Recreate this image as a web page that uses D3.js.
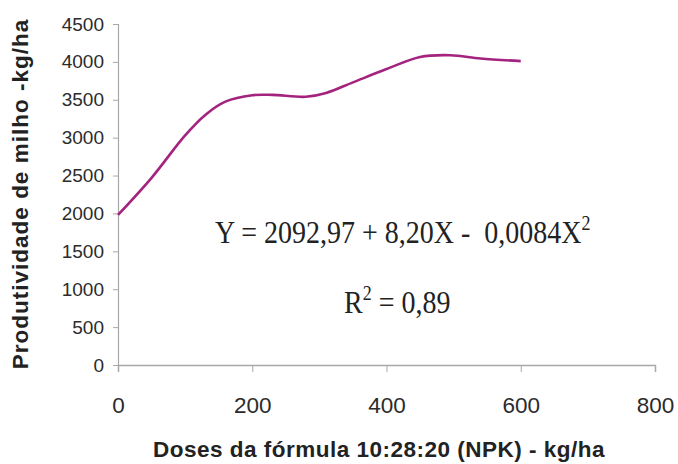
<!DOCTYPE html>
<html lang="en">

<head>
    <meta charset="utf-8">
    <title>Produtividade de milho</title>
    <script type="text/javascript" src="https://d3js.org/d3.v7.min.js"></script>
    <style type="text/css">
        body { margin: 0; background: #fff; }
    </style>
</head>

<body>
    <script type="text/javascript">
        //Values (dose kg/ha, yield kg/ha)
        const doses = [0, 50, 100, 130, 160, 200, 230, 280, 310, 350, 400, 450, 495, 540, 600];
        const yields = [1980, 2470, 3030, 3300, 3475, 3560, 3565, 3540, 3590, 3730, 3905, 4065, 4088, 4045, 4010];
        const xTicks = [0, 200, 400, 600, 800];
        const yTicks = [0, 500, 1000, 1500, 2000, 2500, 3000, 3500, 4000, 4500];

        const canvasWidth = 678;
        const canvasHeight = 464;

        const xScale = d3.scaleLinear()
            .domain([0, 800])
            .range([118, 655])

        const yScale = d3.scaleLinear()
            .domain([0, 4500])
            .range([365, 24])

        const svg = d3.select('body')
            .append('svg')
            .attr('width', canvasWidth)
            .attr('height', canvasHeight)

        //Axes
        const bottomAxis = d3.axisBottom(xScale)
            .tickValues(xTicks)
            .tickFormat(d3.format('d'))
            .tickSize(7)
            .tickPadding(25)

        const leftAxis = d3.axisLeft(yScale)
            .tickValues(yTicks)
            .tickFormat(d3.format('d'))
            .tickSize(5)
            .tickPadding(9)

        const gx = svg.append('g')
            .attr('transform', 'translate(0,' + yScale(0) + ')')
            .call(bottomAxis)
        gx.select('.domain').attr('stroke', '#a8a8a8').attr('stroke-width', 1.5)
        gx.selectAll('.tick line').attr('stroke', '#a8a8a8')
        gx.selectAll('.tick text')
            .attr('font-family', 'Liberation Sans, Arial, sans-serif')
            .attr('font-size', 22.5)
            .attr('fill', '#2b2b2b')

        const gy = svg.append('g')
            .attr('transform', 'translate(' + xScale(0) + ',0)')
            .call(leftAxis)
        gy.select('.domain').attr('stroke', '#a8a8a8').attr('stroke-width', 1.2)
        gy.selectAll('.tick line').attr('stroke', '#a8a8a8')
        gy.selectAll('.tick text')
            .attr('font-family', 'Liberation Sans, Arial, sans-serif')
            .attr('font-size', 19)
            .attr('fill', '#2b2b2b')

        //Curve
        const points = doses.map((d, i) => [d, yields[i]])
        const line = d3.line()
            .x(d => xScale(d[0]))
            .y(d => yScale(d[1]))
            .curve(d3.curveCatmullRom.alpha(0.5))

        svg.append('path')
            .datum(points)
            .attr('d', line)
            .attr('fill', 'none')
            .attr('stroke', '#a3237f')
            .attr('stroke-width', 2.6)

        //Axis labels
        svg.append('text')
            .attr('text-anchor', 'middle')
            .attr('x', 379)
            .attr('y', 457)
            .attr('font-family', 'Liberation Sans, Arial, sans-serif')
            .attr('font-weight', 'bold')
            .attr('font-size', 22.5)
            .attr('letter-spacing', 0.5)
            .attr('fill', '#222')
            .text('Doses da fórmula 10:28:20 (NPK) - kg/ha')

        svg.append('text')
            .attr('text-anchor', 'middle')
            .attr('transform', 'translate(28,194) rotate(-90)')
            .attr('font-family', 'Liberation Sans, Arial, sans-serif')
            .attr('font-weight', 'bold')
            .attr('font-size', 22.5)
            .attr('letter-spacing', 1)
            .attr('fill', '#222')
            .text('Produtividade de milho -kg/ha')

        //Regression equation
        const eq = svg.append('text')
            .attr('transform', 'translate(215,243) scale(1,1.12)')
            .attr('font-family', 'Liberation Serif, Times New Roman, serif')
            .attr('font-size', 28)
            .attr('fill', '#222')
            .style('white-space', 'pre')
        eq.append('tspan').text('Y = 2092,97 + 8,20X -  0,0084X')
        eq.append('tspan').attr('dy', -12).attr('font-size', 18).text('2')

        const r2 = svg.append('text')
            .attr('transform', 'translate(344,313) scale(1,1.12)')
            .attr('font-family', 'Liberation Serif, Times New Roman, serif')
            .attr('font-size', 28)
            .attr('fill', '#222')
            .style('white-space', 'pre')
        r2.append('tspan').text('R')
        r2.append('tspan').attr('dy', -12).attr('font-size', 18).text('2')
        r2.append('tspan').attr('dy', 12).text(' = 0,89')
    </script>
</body>

</html>
